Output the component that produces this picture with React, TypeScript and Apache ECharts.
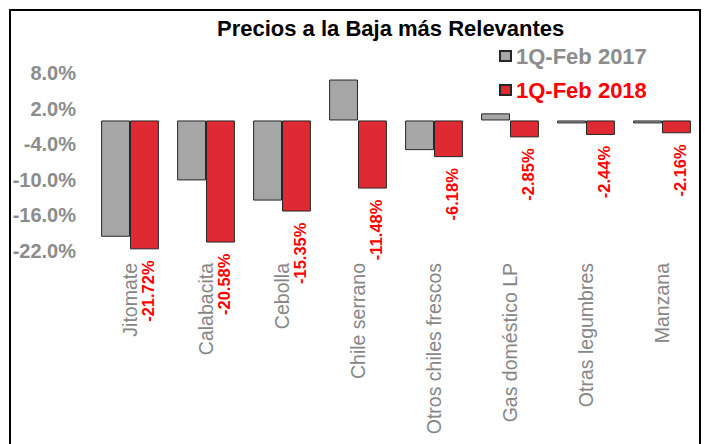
import React, { useEffect, useRef } from "react";
import * as echarts from "echarts";

const categories = [
  "Jitomate",
  "Calabacita",
  "Cebolla",
  "Chile serrano",
  "Otros chiles frescos",
  "Gas doméstico LP",
  "Otras legumbres",
  "Manzana",
];
const series2017 = [-19.6, -10.1, -13.5, 6.9, -5.0, 1.2, -0.5, -0.5];
const series2018 = [-21.72, -20.58, -15.35, -11.48, -6.18, -2.85, -2.44, -2.16];
const seriesNames = ["1Q-Feb 2017", "1Q-Feb 2018"];
const titleText = "Precios a la Baja más Relevantes";
const yMin = -22;
const yMax = 8;
const yInterval = 6;

const FONT = "'Liberation Sans', Arial, sans-serif";

export default function App() {
  const ref = useRef<HTMLDivElement>(null);
  useEffect(() => {
    if (!ref.current) return;
    const chart = echarts.init(ref.current, undefined, { renderer: "svg" });
    chart.setOption({
      animation: false,
      backgroundColor: "#ffffff",
      textStyle: { fontFamily: FONT },
      title: {
        text: titleText,
        left: 217,
        top: 17,
        padding: 0,
        textStyle: { fontSize: 22, fontWeight: "bold", color: "#000000", fontFamily: FONT },
      },
      legend: {
        orient: "vertical",
        left: 499,
        top: 45,
        padding: 0,
        itemWidth: 11,
        itemHeight: 10,
        itemGap: 12,
        icon: "rect",
        data: [
          { name: seriesNames[0], textStyle: { color: "#8c8c8c" } },
          { name: seriesNames[1], textStyle: { color: "#ff0000" } },
        ],
        textStyle: { fontSize: 22, fontWeight: "bold", fontFamily: FONT, lineHeight: 22 },
      },
      graphic: [
        {
          type: "rect",
          shape: { x: 10, y: 10, width: 690, height: 460 },
          style: { fill: "none", stroke: "#000000", lineWidth: 2 },
          silent: true,
        },
      ],
      grid: { left: 92, right: 5, top: 73, bottom: 193, containLabel: false },
      xAxis: {
        type: "category",
        data: categories,
        position: "bottom",
        axisLine: { show: false },
        axisTick: { show: false },
        axisLabel: {
          rotate: 90,
          margin: 12,
          color: "#868686",
          fontSize: 19.5,
          fontFamily: FONT,
          interval: 0,
        },
      },
      yAxis: {
        type: "value",
        min: yMin,
        max: yMax,
        interval: yInterval,
        splitLine: { show: false },
        axisLine: { show: false },
        axisTick: { show: false },
        axisLabel: {
          margin: 16,
          color: "#8c8c8c",
          fontSize: 20,
          fontWeight: "bold",
          fontFamily: FONT,
          formatter: (v: number) => v.toFixed(1) + "%",
        },
      },
      series: [
        {
          name: seriesNames[0],
          type: "bar",
          data: series2017,
          barGap: "0%",
          barCategoryGap: "24%",
          itemStyle: { color: "#a6a6a6", borderColor: "#262626", borderWidth: 1 },
        },
        {
          name: seriesNames[1],
          type: "bar",
          data: series2018,
          barGap: "0%",
          barCategoryGap: "24%",
          itemStyle: { color: "#df2a34", borderColor: "#262626", borderWidth: 1 },
          label: {
            show: true,
            position: "bottom",
            distance: 11,
            rotate: 90,
            align: "right",
            verticalAlign: "middle",
            offset: [0, 4],
            color: "#ff0000",
            fontSize: 16.5,
            fontWeight: "bold",
            fontFamily: FONT,
            formatter: (p: any) => Number(p.value).toFixed(2) + "%",
          },
        },
      ],
    });
    return () => chart.dispose();
  }, []);
  return (
    <div
      ref={ref}
      style={{ position: "fixed", left: 0, top: 0, width: 705, height: 444 }}
    />
  );
}
